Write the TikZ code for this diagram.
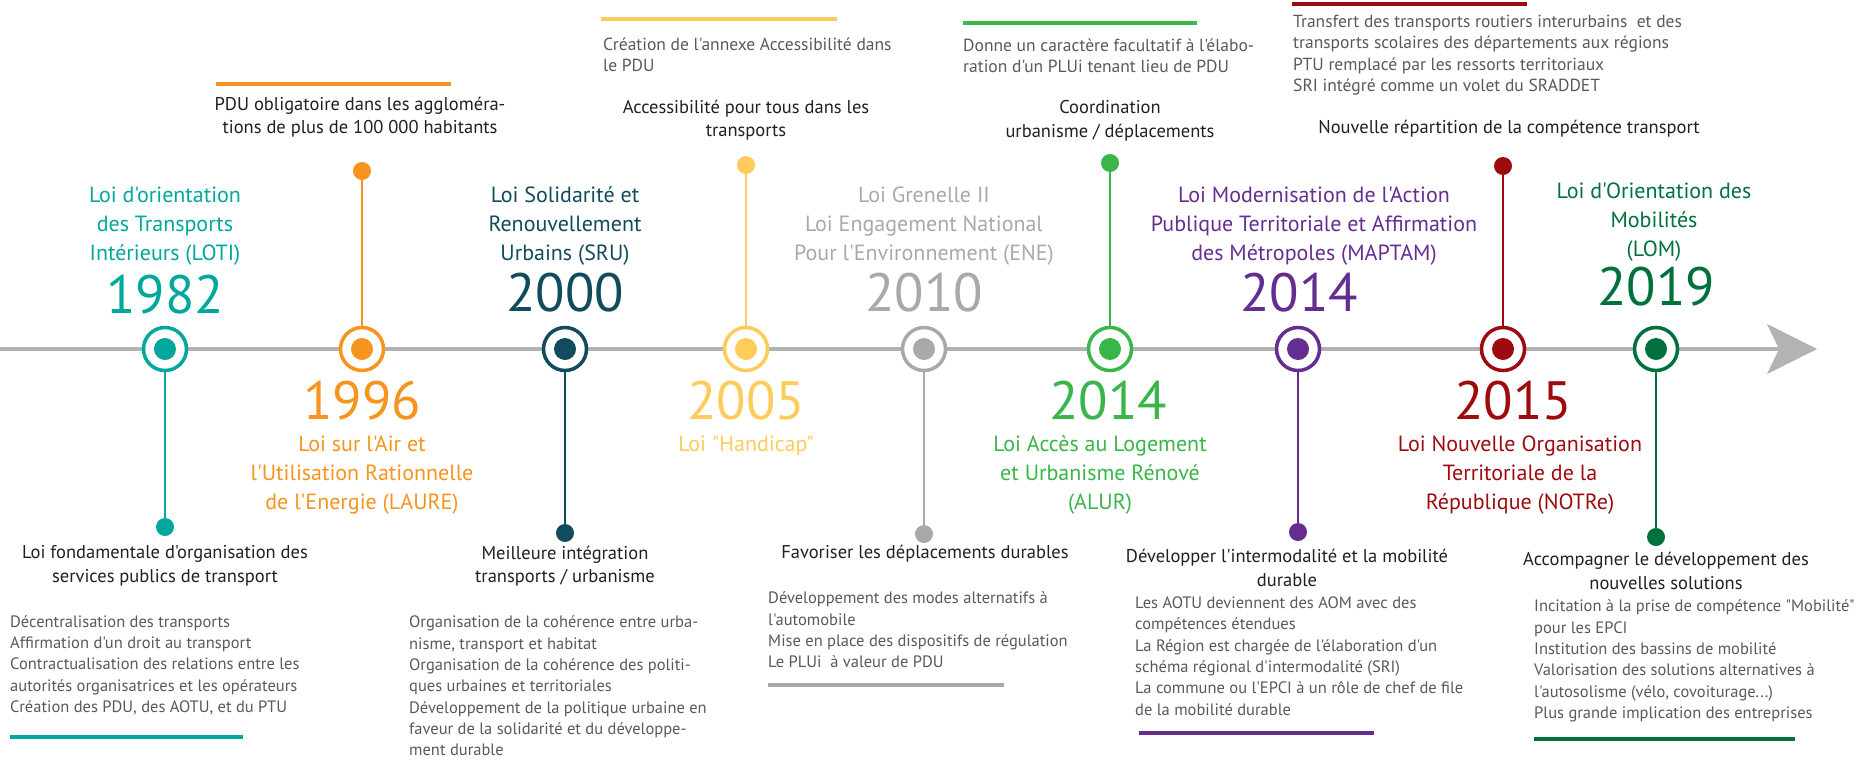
\documentclass[tikz,border=0pt]{standalone}
\usepackage{fontspec}
\setmainfont{PT Sans}[Ligatures=TeXOff]
\usepackage{tikz}
\usetikzlibrary{positioning}
%
\definecolor{cLoti}{HTML}{00A79D}
\definecolor{cLaure}{HTML}{F7941D}
\definecolor{cSru}{HTML}{124B5C}
\definecolor{cHand}{HTML}{FFCB5A}
\definecolor{cEne}{HTML}{A9A9A9}
\definecolor{cAlur}{HTML}{3AB54A}
\definecolor{cMaptam}{HTML}{662D91}
\definecolor{cNotre}{HTML}{9E0B0F}
\definecolor{cLom}{HTML}{00713D}
\definecolor{axisgray}{HTML}{B3B3B3}
\definecolor{headblack}{HTML}{231F20}
\definecolor{bodygray}{HTML}{58595B}
%
\tikzset{
  ring/.style={circle,draw=#1,fill=white,line width=3.5pt,minimum size=43pt,inner sep=0pt},
  core/.style={circle,fill=#1,minimum size=22pt,inner sep=0pt},
  tipdot/.style={circle,fill=#1,minimum size=18pt,inner sep=0pt},
  stem/.style={draw=#1,line width=1.8pt},
  rule/.style={draw=#1,line width=3.5pt},
  tlaw/.style={text=#1,align=center,inner sep=0pt,font=\fontsize{22}{29}\selectfont},
  tyear/.style={text=#1,inner sep=0pt,text height=38pt,text depth=0pt,font=\fontsize{54}{54}\selectfont},
  thead/.style={text=headblack,align=center,inner sep=0pt,font=\fontsize{18.5}{23.5}\selectfont},
  tbody/.style={text=bodygray,align=left,anchor=west,inner sep=0pt,font=\fontsize{16.5}{21.3}\selectfont},
  tnote/.style={text=bodygray,align=left,anchor=west,inner sep=0pt,font=\fontsize{17.5}{21.5}\selectfont}
}
%
\begin{document}
\begin{tikzpicture}[x=1pt,y=-1pt]
%
\useasboundingbox (0,0) rectangle (1874,769);
%
% axis and arrow head
\coordinate (a0) at (0,349);
\coordinate (a1) at (1785,349);
\coordinate (tip) at (1817,349);
\coordinate (tup) at (1767,324);
\coordinate (tin) at (1779,349);
\coordinate (tlo) at (1767,374);
\draw[axisgray,line width=3.5pt] (a0) -- (a1);
\fill[axisgray] (tip) -- (tup) -- (tin) -- (tlo) -- cycle;
%
% end dots of the stems
\node[tipdot=cLoti]   (d1) at (165,527) {};
\node[tipdot=cLaure]  (d2) at (362,171) {};
\node[tipdot=cSru]    (d3) at (565,533) {};
\node[tipdot=cHand]   (d4) at (746,165) {};
\node[tipdot=cEne]    (d5) at (924,534) {};
\node[tipdot=cAlur]   (d6) at (1110,163) {};
\node[tipdot=cMaptam] (d7) at (1298,532) {};
\node[tipdot=cNotre]  (d8) at (1503,166) {};
\node[tipdot=cLom]    (d9) at (1656,537) {};
%
% rings on the axis
\node[ring=cLoti]   (r1) at (165,349) {};
\node[ring=cLaure]  (r2) at (362,349) {};
\node[ring=cSru]    (r3) at (565,349) {};
\node[ring=cHand]   (r4) at (746,349) {};
\node[ring=cEne]    (r5) at (924,349) {};
\node[ring=cAlur]   (r6) at (1110,349) {};
\node[ring=cMaptam] (r7) at (1298,349) {};
\node[ring=cNotre]  (r8) at (1503,349) {};
\node[ring=cLom]    (r9) at (1656,349) {};
\node[core=cLoti]   (c1) at (r1) {};
\node[core=cLaure]  (c2) at (r2) {};
\node[core=cSru]    (c3) at (r3) {};
\node[core=cHand]   (c4) at (r4) {};
\node[core=cEne]    (c5) at (r5) {};
\node[core=cAlur]   (c6) at (r6) {};
\node[core=cMaptam] (c7) at (r7) {};
\node[core=cNotre]  (c8) at (r8) {};
\node[core=cLom]    (c9) at (r9) {};
%
\draw[stem=cLoti]   (r1) -- (d1);
\draw[stem=cLaure]  (r2) -- (d2);
\draw[stem=cSru]    (r3) -- (d3);
\draw[stem=cHand]   (r4) -- (d4);
\draw[stem=cEne]    (r5) -- (d5);
\draw[stem=cAlur]   (r6) -- (d6);
\draw[stem=cMaptam] (r7) -- (d7);
\draw[stem=cNotre]  (r8) -- (d8);
\draw[stem=cLom]    (r9) -- (d9);
%
% 1982
\node[tlaw=cLoti] (l1) at (165,226) {Loi d'orientation\\des Transports\\Intérieurs (LOTI)};
\node[tyear=cLoti] (y1) at (165,294) {1982};
\node[thead] (h1) at (165,566) {Loi fondamentale d'organisation des\\services publics de transport};
\node[tbody] (b1) at (10,665) {Décentralisation des transports\\Affirmation d'un droit au transport\\Contractualisation des relations entre les\\autorités organisatrices et les opérateurs\\Création des PDU, des AOTU, et du PTU};
\draw[rule=cLoti] (10,737) -- (243,737);
%
% 1996
\draw[rule=cLaure] (216,84) -- (451,84);
\node[thead] (h2) at (360,117) {PDU obligatoire dans les aggloméra-\\tions de plus de 100 000 habitants};
\node[tyear=cLaure] (y2) at (362,400) {1996};
\node[tlaw=cLaure] (l2) at (362,475) {Loi sur l'Air et\\l'Utilisation Rationnelle\\de l'Energie (LAURE)};
%
% 2000
\node[tlaw=cSru] (l3) at (565,226) {Loi Solidarité et\\Renouvellement\\Urbains (SRU)};
\node[tyear=cSru] (y3) at (565,292) {2000};
\node[thead] (h3) at (565,566) {Meilleure intégration\\transports / urbanisme};
\node[tbody] (b3) at (409,686) {Organisation de la cohérence entre urba-\\nisme, transport et habitat\\Organisation de la cohérence des politi-\\ques urbaines et territoriales\\Développement de la politique urbaine en\\faveur de la solidarité et du développe-\\ment durable};
%
% 2005
\draw[rule=cHand] (601,19) -- (837,19);
\node[tnote] (n4) at (603,55) {Création de l'annexe Accessibilité dans\\le PDU};
\node[thead] (h4) at (746,120) {Accessibilité pour tous dans les\\transports};
\node[tyear=cHand] (y4) at (746,400) {2005};
\node[tlaw=cHand] (l4) at (746,446) {Loi "Handicap"};
%
% 2010
\node[tlaw=cEne] (l5) at (924,226) {Loi Grenelle II\\Loi Engagement National\\Pour l'Environnement (ENE)};
\node[tyear=cEne] (y5) at (924,292) {2010};
\node[thead] (h5) at (925,554) {Favoriser les déplacements durables};
\node[tbody] (b5) at (768,630) {Développement des modes alternatifs à\\l'automobile\\Mise en place des dispositifs de régulation\\Le PLUi~ à valeur de PDU};
\draw[rule=cEne] (768,685) -- (1004,685);
%
% 2014 ALUR
\draw[rule=cAlur] (963,23) -- (1197,23);
\node[tnote] (n6) at (963,56) {Donne un caractère facultatif à l'élabo-\\ration d'un PLUi tenant lieu de PDU};
\node[thead] (h6) at (1110,121) {Coordination\\urbanisme / déplacements};
\node[tyear=cAlur] (y6) at (1108,400) {2014};
\node[tlaw=cAlur] (l6) at (1100,475) {Loi Accès au Logement\\et Urbanisme Rénové\\(ALUR)};
%
% 2014 MAPTAM
\node[tlaw=cMaptam] (l7) at (1314,226) {Loi Modernisation de l'Action\\Publique Territoriale et Affirmation\\des Métropoles (MAPTAM)};
\node[tyear=cMaptam] (y7) at (1299,292) {2014};
\node[thead] (h7) at (1287,568) {Développer l'intermodalité et la mobilité\\durable};
\node[tbody] (b7) at (1135,656) {Les AOTU deviennent des AOM avec des\\compétences étendues\\La Région est chargée de l'élaboration d'un\\schéma régional d'intermodalité (SRI)\\La commune ou l'EPCI à un rôle de chef de file\\de la mobilité durable};
\draw[rule=cMaptam] (1139,733) -- (1374,733);
%
% 2015 NOTRe
\draw[rule=cNotre] (1292,4) -- (1527,4);
\node[tnote] (n8) at (1293,55) {Transfert des transports routiers interurbains~ et des\\transports scolaires des départements aux régions\\PTU remplacé par les ressorts territoriaux\\SRI intégré comme un volet du SRADDET};
\node[thead] (h8) at (1509,129) {Nouvelle répartition de la compétence transport};
\node[tyear=cNotre] (y8) at (1513,400) {2015};
\node[tlaw=cNotre] (l8) at (1520,475) {Loi Nouvelle Organisation\\Territoriale de la\\République (NOTRe)};
%
% 2019 LOM
\node[tlaw=cLom] (l9) at (1654,222) {Loi d'Orientation des\\Mobilités\\(LOM)};
\node[tyear=cLom] (y9) at (1656,286) {2019};
\node[thead] (h9) at (1666,571) {Accompagner le développement des\\nouvelles solutions};
\node[tbody] (b9) at (1534,661) {Incitation à la prise de compétence "Mobilité"\\pour les EPCI\\Institution des bassins de mobilité\\Valorisation des solutions alternatives à\\l'autosolisme (vélo, covoiturage...)\\Plus grande implication des entreprises};
\draw[rule=cLom] (1534,739) -- (1795,739);
%
\end{tikzpicture}
\end{document}
